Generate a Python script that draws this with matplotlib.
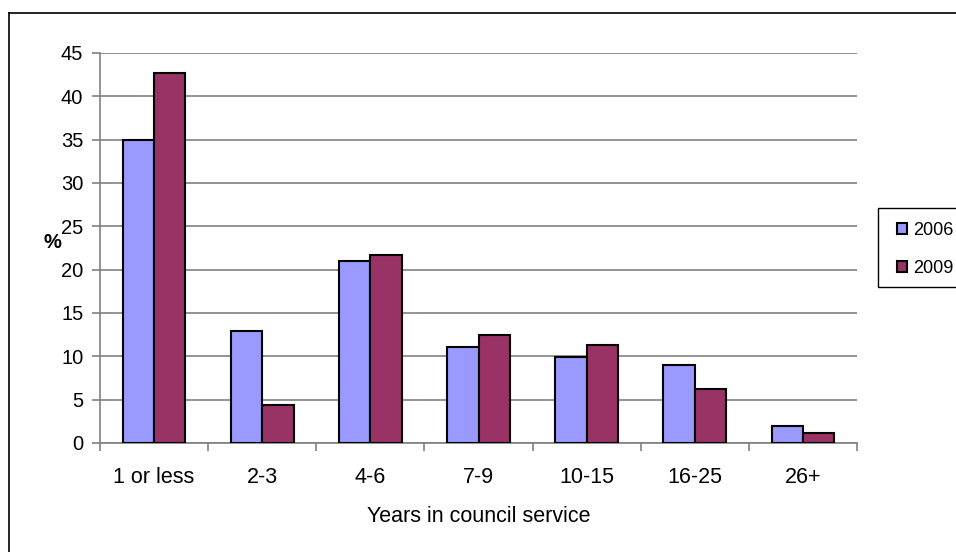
import numpy as np
import matplotlib.pyplot as plt
from matplotlib.lines import Line2D
from matplotlib.patches import Rectangle

plt.rcParams['font.family'] = ['Liberation Sans', 'DejaVu Sans']

categories = ['1 or less', '2-3', '4-6', '7-9', '10-15', '16-25', '26+']
vals_2006 = [35.0, 12.9, 21.0, 11.1, 9.9, 9.0, 2.0]
vals_2009 = [42.7, 4.4, 21.7, 12.5, 11.3, 6.2, 1.1]
years = ['2006', '2009']

W, H = 956, 552
fig = plt.figure(figsize=(W/100, H/100), dpi=100)
ax = fig.add_axes([100/W, 1 - 443/H, 757/W, 390/H])

x = np.arange(len(categories))
w = 0.29
b1 = ax.bar(x - w/2, vals_2006, w, color='#9999ff', edgecolor='black', linewidth=1.5, label=years[0], zorder=3)
b2 = ax.bar(x + w/2, vals_2009, w, color='#993366', edgecolor='black', linewidth=1.5, label=years[1], zorder=3)

ax.set_xlim(-0.5, len(categories) - 0.5)
ax.set_ylim(0, 45)
ax.set_yticks(range(0, 50, 5))
ax.yaxis.grid(True, color='#808080', linewidth=1.2, zorder=0)
ax.set_xticks(x)
ax.set_xticklabels(categories)
ax.set_xticks(np.arange(-0.5, len(categories), 1), minor=True)
ax.tick_params(axis='x', which='major', length=0, pad=17, labelsize=15.5)
ax.tick_params(axis='x', which='minor', length=6, direction='out', color='#808080', width=1.2)
ax.tick_params(axis='y', length=6, color='#808080', width=1.2, labelsize=14.5, pad=6)

for s in ['top', 'right']:
    ax.spines[s].set_visible(False)
for s in ['left', 'bottom']:
    ax.spines[s].set_color('#808080')
    ax.spines[s].set_linewidth(1.2)

ax.set_xlabel('Years in council service', fontsize=15.5, labelpad=13)
fig.text(52/W, 1 - 242/H, '%', fontsize=14.5, fontweight='bold', ha='center', va='center')

# legend box drawn separately so the entries can sit inside it freely
fig.add_artist(Rectangle((878/W, 1 - 287/H), 90/W, 79/H, transform=fig.transFigure,
                         facecolor='white', edgecolor='black', linewidth=1.0))
leg = fig.legend(handles=[b1, b2], loc='upper left', bbox_to_anchor=(897/W, 1 - 222/H),
                 fontsize=13, frameon=False,
                 handlelength=0.55, handleheight=0.55, handletextpad=0.35,
                 labelspacing=1.15, borderpad=0, borderaxespad=0)

# outer chart border (left and top edges show, the rest runs off the image)
fig.add_artist(Line2D([8.5/W, 8.5/W], [0, 1 - 13/H], transform=fig.transFigure, color='black', linewidth=1.2))
fig.add_artist(Line2D([8.5/W, 1], [1 - 13/H, 1 - 13/H], transform=fig.transFigure, color='black', linewidth=1.2))

fig.savefig('out.png', dpi=100)
